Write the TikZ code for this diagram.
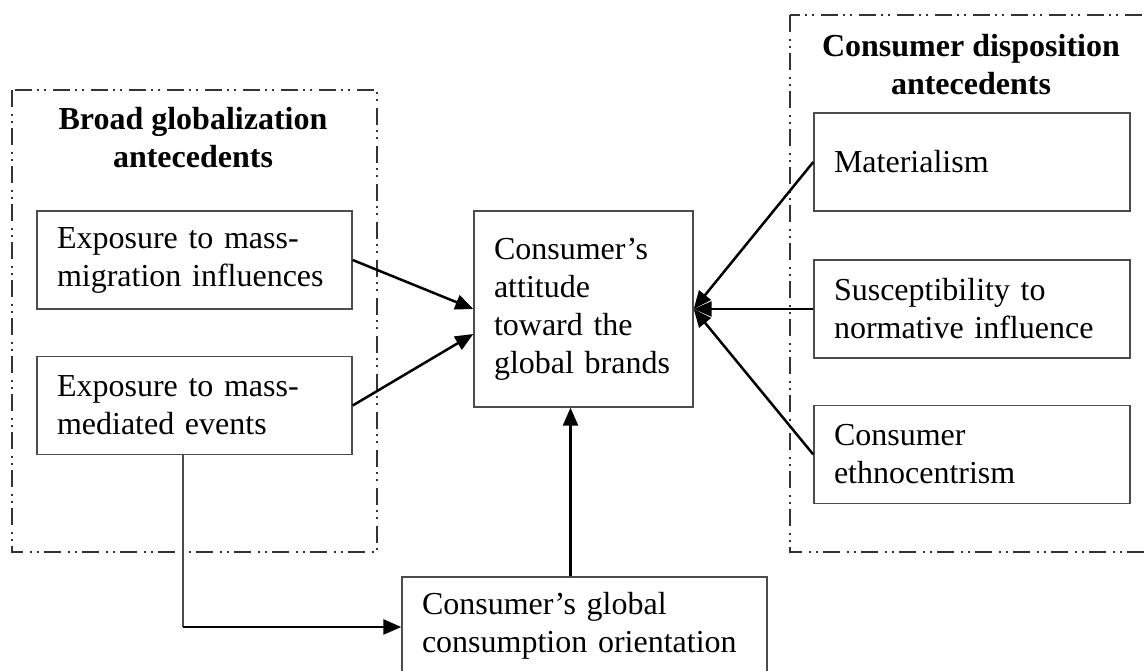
\documentclass[tikz,border=0pt]{standalone}
\usepackage{fontspec}
\setmainfont{Liberation Serif}
\usetikzlibrary{arrows.meta}
\tikzset{
  box/.style={draw=black!70, line width=.7pt, minimum height=49pt, inner xsep=10pt, inner ysep=0pt, align=left, font=\fontsize{16}{19}\selectfont},
  frame/.style={draw=black!80, line width=.75pt, dash pattern=on 8.5pt off 3.5pt on 1pt off 2.5pt on 1pt off 2.5pt},
  arr/.style={line width=1.25pt, -{Triangle[length=9pt,width=7.5pt]}},
  head/.style={font=\fontsize{16}{19}\selectfont\bfseries, align=center}
}
\begin{document}
\begin{tikzpicture}[x=.5pt,y=-.5pt]
\clip (0,0) rectangle (1145,670);
\fill[white] (0,0) rectangle (1145,670);
\draw[frame] (12,90) rectangle (377,552);
\draw[frame] (790,15) rectangle (1170,552);
\node[head] (globhead) at (193,138) {Broad globalization\\antecedents};
\node[head] (disphead) at (971,65) {Consumer disposition\\antecedents};
\node[box,text width=137.5pt] (migr) at (194.5,260) {Exposure to mass-\\migration influences};
\node[box,text width=137.5pt] (medi) at (194.5,405.5) {Exposure to mass-\\mediated events};
\node[box,text width=89.5pt,minimum height=98pt] (att) at (583.5,309) {Consumer's\\attitude\\toward the\\global brands\\[5pt]};
\node[box,text width=138pt] (mat) at (972,162) {Materialism};
\node[box,text width=138pt] (susc) at (972,309) {Susceptibility to\\normative influence};
\node[box,text width=138pt] (ethn) at (972,454.5) {Consumer\\ethnocentrism};
\node[box,text width=162.5pt] (glob) at (584.5,626) {Consumer's global\\consumption orientation};
\draw[arr] (migr.east) -- (att.west);
\draw[arr] (medi.east) -- ([yshift=-12.5pt]att.west);
\draw[arr] (mat.west) -- (att.east);
\draw[arr] (susc.west) -- (att.east);
\draw[arr] (ethn.west) -- (att.east);
\draw[arr] ([xshift=-7pt]glob.north) -- ([xshift=-7pt]glob.north |- att.south);
\coordinate (bend) at (183,627);
\draw[draw=black!70,line width=.7pt] (medi.south -| bend) -- (bend);
\draw[arr] (bend) -- (bend -| glob.west);
\end{tikzpicture}
\end{document}
